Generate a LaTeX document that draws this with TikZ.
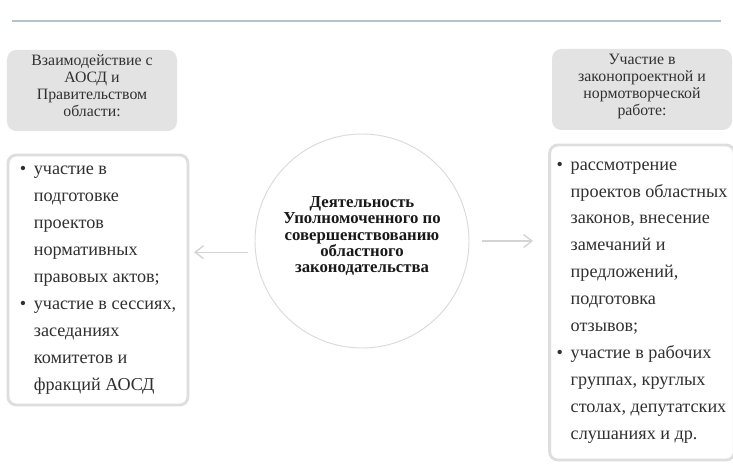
\documentclass[tikz,border=0pt]{standalone}
\usepackage{fontspec}
\setmainfont{Liberation Serif}
\usetikzlibrary{arrows.meta, positioning, calc}
\definecolor{rulegray}{RGB}{180,195,206}
\definecolor{headfill}{RGB}{227,227,227}
\definecolor{listline}{RGB}{222,222,222}
\definecolor{circline}{RGB}{218,218,218}
\definecolor{arrowgray}{RGB}{212,212,212}
\definecolor{textdark}{RGB}{48,48,48}
\newcommand{\bul}{\makebox[12pt][l]{\textbullet}}
\newcommand{\ind}{\hspace*{12pt}}

\begin{document}
\begin{tikzpicture}[
    headbox/.style = {rectangle, fill=headfill, rounded corners=8pt, align=center, text=textdark, font=\fontsize{13.5}{14.5}\selectfont, inner sep=4pt},
    listbox/.style = {rectangle, draw=listline, fill=white, line width=2.4pt, rounded corners=7pt, align=left, text=textdark, font=\fontsize{15.5}{23}\selectfont, inner sep=6pt},
    hubcircle/.style = {circle, draw=circline, line width=0.8pt, align=center, text=black!90, font=\bfseries\fontsize{14.3}{14}\selectfont, minimum size=6.42cm, inner sep=0pt},
    arrow/.style = {draw=arrowgray, line width=1.2pt, -{Straight Barb[length=7pt, width=11pt]}}
]
\useasboundingbox (0,0) rectangle (21.99,-14.01);
\draw [rulegray, line width=2.5pt] (0.36,-0.63) -- (21.63,-0.63);

\node (head_l) [headbox, minimum width=5.1cm, minimum height=2.37cm] at (2.76,-2.715) {Взаимодействие с\\АОСД и\\Правительством\\области:\\[-6pt]\mbox{}};
\node (head_r) [headbox, minimum width=5.4cm, minimum height=2.43cm] at (19.26,-2.685) {Участие в\\законопроектной и\\нормотворческой\\работе:\\[-6pt]\mbox{}};

\node (centre) [hubcircle] at (10.86,-7.23) {Деятельность\\Уполномоченного по\\совершенствованию\\областного\\законодательства\\[-3pt]\mbox{}};

\node (list_l) [listbox, minimum width=5.4cm, minimum height=7.5cm] at (2.94,-8.4) {
\bul участие в\\
\ind подготовке\\
\ind проектов\\
\ind нормативных\\
\ind правовых актов;\\
\bul участие в сессиях,\\
\ind заседаниях\\
\ind комитетов и\\
\ind фракций АОСД
};
\node (list_r) [listbox, minimum width=5.34cm, minimum height=9.45cm] at (19.26,-9.075) {
\bul рассмотрение\\
\ind проектов областных\\
\ind законов, внесение\\
\ind замечаний и\\
\ind предложений,\\
\ind подготовка\\
\ind отзывов;\\
\bul участие в рабочих\\
\ind группах, круглых\\
\ind столах, депутатских\\
\ind слушаниях и др.
};

\draw [arrow, shorten <=6pt, shorten >=4pt] (centre.186) -- (centre.186 -| list_l.east);
\draw [arrow, shorten <=11pt, shorten >=13pt] (centre.east) -- (centre.east -| list_r.west);

\end{tikzpicture}
\end{document}
